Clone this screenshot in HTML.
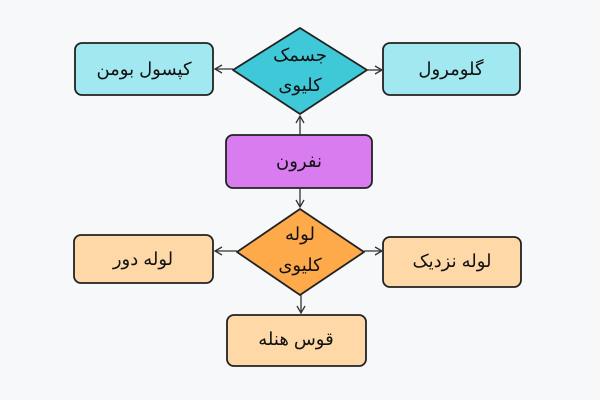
<!DOCTYPE html>
<html><head><meta charset="utf-8"><style>
html,body{margin:0;padding:0;background:#f6f8fa;}
svg{display:block}
text{font-family:"Liberation Sans","Noto Sans CJK SC",sans-serif;font-size:18px;fill:#111;text-anchor:middle;dominant-baseline:middle}
</style></head><body>
<svg width="600" height="400" viewBox="0 0 600 400" xmlns="http://www.w3.org/2000/svg">
<defs><marker id="a" markerWidth="10" markerHeight="10" refX="8" refY="5" orient="auto" markerUnits="userSpaceOnUse"><path d="M1,1 L8,5 L1,9" fill="none" stroke="#333" stroke-width="1.3"/></marker></defs>
<rect width="600" height="400" fill="#f6f8fa"/>
<g stroke="#222" stroke-width="1.8">
<rect x="75" y="43" width="138" height="52" rx="7" fill="#a2e8f0"/>
<rect x="383" y="43" width="137" height="52" rx="7" fill="#a2e8f0"/>
<path d="M300,28 L367,70 L300,114 L233,70 Z" fill="#3ec8d8" stroke-linejoin="round"/>
<rect x="226" y="135" width="146" height="53" rx="7" fill="#d87cf0"/>
<path d="M300,209 L364,252 L300,295 L237,252 Z" fill="#ffaa4a" stroke-linejoin="round"/>
<rect x="74" y="235" width="139" height="48" rx="7" fill="#ffd8a8"/>
<rect x="383" y="237" width="138" height="50" rx="7" fill="#ffd8a8"/>
<rect x="227" y="315" width="139" height="51" rx="7" fill="#ffd8a8"/>
</g>
<g stroke="#333" stroke-width="1.3" fill="none" marker-end="url(#a)">
<line x1="233" y1="69" x2="215" y2="69"/>
<line x1="367" y1="70" x2="382" y2="70"/>
<line x1="300" y1="135" x2="300" y2="116"/>
<line x1="300" y1="188" x2="300" y2="207"/>
<line x1="237" y1="251" x2="215" y2="251"/>
<line x1="364" y1="251" x2="382" y2="251"/>
<line x1="301" y1="295" x2="301" y2="313"/>
</g>
<text x="144" y="70">کپسول بومن</text>
<text x="451" y="70">گلومرول</text>
<text x="300" y="56">جسمک</text>
<text x="300" y="86">کلیوی</text>
<text x="299" y="162">نفرون</text>
<text x="300" y="235">لوله</text>
<text x="300" y="266">کلیوی</text>
<text x="143" y="260">لوله دور</text>
<text x="452" y="262">لوله نزدیک</text>
<text x="296" y="340">قوس هنله</text>
</svg>
</body></html>
